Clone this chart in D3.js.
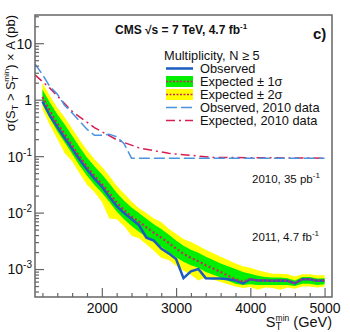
<!DOCTYPE html>
<html>
<head>
<meta charset="utf-8">
<title>CMS ST limit, N >= 5</title>
<script src="https://cdnjs.cloudflare.com/ajax/libs/d3/7.8.5/d3.min.js"></script>
<style>
  body { margin: 0; background: #fff; }
  svg { font-family: 'Liberation Sans', Arial, Helvetica, sans-serif; }
</style>
</head>
<body>
<svg id="svg" width="350" height="332"></svg>
<script>

// 2011 limits, one point per 100 GeV of ST min
const stMin = [1200, 1300, 1400, 1500, 1600, 1700, 1800, 1900, 2000, 2100,
  2200, 2300, 2400, 2500, 2600, 2700, 2800, 2900, 3000, 3100,
  3200, 3300, 3400, 3500, 3600, 3700, 3800, 3900, 4000, 4100,
  4200, 4300, 4400, 4500, 4600, 4700, 4800, 4900, 5000];
const observed = [0.93, 0.52, 0.33, 0.21, 0.135, 0.087, 0.058, 0.040, 0.029, 0.019,
  0.013, 0.0098, 0.0077, 0.0060, 0.0036, 0.0032, 0.0023, 0.0019, 0.0015, 0.00069,
  0.00091, 0.0010, 0.00069, 0.00068, 0.00068, 0.00066, 0.00063, 0.00056, 0.00066, 0.00063,
  0.00063, 0.00062, 0.00063, 0.00062, 0.00056, 0.00066, 0.00066, 0.00062, 0.00063];
const expected = [1.12, 0.63, 0.38, 0.245, 0.155, 0.098, 0.065, 0.045, 0.032, 0.0224,
  0.0151, 0.011, 0.0085, 0.0069, 0.0055, 0.0044, 0.0036, 0.0029, 0.0023, 0.00186,
  0.00158, 0.00138, 0.00117, 0.00102, 0.00089, 0.00076, 0.00066, 0.00060, 0.00066, 0.00063,
  0.00063, 0.00062, 0.00063, 0.00062, 0.00056, 0.00066, 0.00066, 0.00062, 0.00063];
const exp1Up = [1.51, 0.89, 0.55, 0.363, 0.229, 0.145, 0.095, 0.066, 0.048, 0.033,
  0.0224, 0.0162, 0.0123, 0.0098, 0.0078, 0.0062, 0.0051, 0.0041, 0.0032, 0.0026,
  0.0022, 0.00195, 0.00166, 0.00145, 0.00126, 0.00112, 0.0010, 0.00089, 0.00083, 0.00076,
  0.00072, 0.00071, 0.00071, 0.00069, 0.00063, 0.00072, 0.00072, 0.00068, 0.00069];
const exp1Dn = [0.85, 0.47, 0.275, 0.174, 0.110, 0.068, 0.045, 0.031, 0.0224, 0.0155,
  0.0105, 0.0076, 0.0058, 0.0046, 0.0037, 0.0030, 0.0025, 0.0020, 0.00162, 0.00135,
  0.00117, 0.00105, 0.00089, 0.00079, 0.00071, 0.00062, 0.00055, 0.00052, 0.00054, 0.00052,
  0.00052, 0.00052, 0.00052, 0.00052, 0.00050, 0.00055, 0.00055, 0.00052, 0.00054];
const exp2Up = [2.0, 1.17, 0.72, 0.49, 0.309, 0.195, 0.129, 0.089, 0.065, 0.045,
  0.030, 0.0219, 0.0158, 0.0120, 0.0098, 0.0079, 0.0068, 0.0052, 0.0042, 0.0034,
  0.0030, 0.0026, 0.0022, 0.0019, 0.00166, 0.00145, 0.00126, 0.00112, 0.00105, 0.00095,
  0.00089, 0.00083, 0.00083, 0.00081, 0.00074, 0.00081, 0.00081, 0.00078, 0.00078];
const exp2Dn = [0.68, 0.355, 0.204, 0.112, 0.081, 0.050, 0.031, 0.023, 0.0155, 0.0079,
  0.0076, 0.0058, 0.0039, 0.0035, 0.00275, 0.0021, 0.00158, 0.00145, 0.00115, 0.00093,
  0.00079, 0.00063, 0.00071, 0.00065, 0.00059, 0.00054, 0.00049, 0.00046, 0.00048, 0.00043,
  0.00047, 0.00046, 0.00043, 0.00047, 0.00045, 0.00049, 0.00049, 0.00047, 0.00049];

// 2010 results (35 pb-1)
const st2010Obs = [1100, 1200, 1300, 1400, 1500, 1600, 1700, 1800, 1900, 2000,
  2100, 2200, 2300, 2400, 5000];
const obs2010 = [4.3, 2.8, 1.7, 1.26, 0.79, 0.58, 0.42, 0.30, 0.234, 0.234,
  0.245, 0.22, 0.166, 0.092, 0.092];
const st2010Exp = [1100, 1300, 1600, 1900, 2200, 2500, 2900, 3500, 5000];
const exp2010 = [2.75, 1.6, 0.62, 0.32, 0.195, 0.14, 0.112, 0.095, 0.092];

const xTicks = [2000, 3000, 4000, 5000];
const yTicks = [1e-3, 1e-2, 1e-1, 1, 10];
const yTickLabels = [['10', '-3'], ['10', '-2'], ['10', '-1'], ['1', ''], ['10', '']];

const padL = 35, padR = 332, padT = 15, padB = 297;
const svg = d3.select('#svg');

const x = d3.scaleLinear().domain([1100, 5100]).range([padL, padR]);
const y = d3.scaleLog().domain([3.2e-4, 31.6]).range([padB, padT]);

svg.append('defs').append('clipPath').attr('id', 'frame')
  .append('rect').attr('x', padL).attr('y', padT)
  .attr('width', padR - padL).attr('height', padB - padT);

const plot = svg.append('g').attr('clip-path', 'url(#frame)');

const band = (lo, hi) => d3.area()
  .x((d, i) => x(stMin[i]))
  .y0((d, i) => y(lo[i]))
  .y1((d, i) => y(hi[i]));

plot.append('path').datum(stMin).attr('d', band(exp2Dn, exp2Up)).attr('fill', '#ffff00');
plot.append('path').datum(stMin).attr('d', band(exp1Dn, exp1Up)).attr('fill', '#00ee00');

const line = (xs) => d3.line().x((d, i) => x(xs[i])).y(d => y(d));

plot.append('path').datum(exp2010).attr('d', line(st2010Exp))
  .attr('fill', 'none').attr('stroke', '#d81e50').attr('stroke-width', 1.5)
  .attr('stroke-dasharray', '9,4,2,4');
plot.append('path').datum(obs2010).attr('d', line(st2010Obs))
  .attr('fill', 'none').attr('stroke', '#4a94e0').attr('stroke-width', 1.5)
  .attr('stroke-dasharray', '11,4');

plot.append('path').datum(observed).attr('d', line(stMin))
  .attr('fill', 'none').attr('stroke', '#1a5cbf').attr('stroke-width', 2.5);
plot.append('path').datum(expected).attr('d', line(stMin))
  .attr('fill', 'none').attr('stroke', '#cc2a5c').attr('stroke-width', 2.2)
  .attr('stroke-dasharray', '2,2.4');

// frame
svg.append('rect').attr('x', padL).attr('y', padT)
  .attr('width', padR - padL).attr('height', padB - padT)
  .attr('fill', 'none').attr('stroke', '#666').attr('stroke-width', 1.5);

// y axis, ticks pointing into the frame
const yMinor = [];
for (let e = -4; e <= 1; e++) {
  for (let k = 2; k <= 9; k++) {
    const v = k * Math.pow(10, e);
    if (v > 3.2e-4 && v < 31.6) yMinor.push(v);
  }
}
svg.append('g').attr('transform', `translate(${padL},0)`)
  .call(d3.axisLeft(y).tickValues(yMinor).tickSizeInner(-4).tickSizeOuter(0).tickFormat(''));
const yAxis = svg.append('g').attr('transform', `translate(${padL},0)`)
  .call(d3.axisLeft(y).tickValues(yTicks).tickSizeInner(-9).tickSizeOuter(0).tickPadding(3));

yAxis.selectAll('.tick text').each(function (d, i) {
  const t = d3.select(this).text(null).attr('font-size', 14).attr('dy', '0.35em');
  const lab = yTickLabels[i];
  t.append('tspan').text(lab[0]);
  if (lab[1]) t.append('tspan').attr('dy', -6).attr('font-size', 10).text(lab[1]);
});

// x axis
const xMinor = d3.range(1200, 5001, 200).filter(v => xTicks.indexOf(v) < 0);
svg.append('g').attr('transform', `translate(0,${padB})`)
  .call(d3.axisBottom(x).tickValues(xMinor).tickSizeInner(-4).tickSizeOuter(0).tickFormat(''));
const xAxis = svg.append('g').attr('transform', `translate(0,${padB})`)
  .call(d3.axisBottom(x).tickValues(xTicks).tickSizeInner(-9).tickSizeOuter(0).tickPadding(6)
    .tickFormat(d3.format('d')));
xAxis.selectAll('.tick text').attr('font-size', 14);

svg.selectAll('.domain').remove();
svg.selectAll('.tick line').attr('stroke', '#666').attr('stroke-width', 1.2);
svg.selectAll('.tick text').attr('fill', '#111').attr('font-family', null);

// axis titles
const yTitle = svg.append('text')
  .attr('transform', `translate(15,${padT}) rotate(-90)`)
  .attr('text-anchor', 'end').attr('font-size', 13).attr('fill', '#111');
yTitle.append('tspan').text('σ(S');
yTitle.append('tspan').attr('dy', 3).attr('font-size', 9).text('T');
yTitle.append('tspan').attr('dy', -3).text(' > S');
yTitle.append('tspan').attr('dy', 3).attr('font-size', 9).text('T');
yTitle.append('tspan').attr('dx', -6).attr('dy', -9).attr('font-size', 8).text('min');
yTitle.append('tspan').attr('dy', 6).text(') × A (pb)');

const xTitle = svg.append('text').attr('x', padR).attr('y', 327)
  .attr('text-anchor', 'end').attr('font-size', 14.5).attr('fill', '#111');
xTitle.append('tspan').text('S');
xTitle.append('tspan').attr('dy', 3).attr('font-size', 10).text('T');
xTitle.append('tspan').attr('dx', -6).attr('dy', -9).attr('font-size', 8.5).text('min');
xTitle.append('tspan').attr('dy', 6).text(' (GeV)');

// header texts
const title = svg.append('text').attr('x', 115).attr('y', 34)
  .attr('font-size', 12).attr('font-weight', 'bold').attr('fill', '#111');
title.append('tspan').text('CMS √s = 7 TeV, 4.7 fb');
title.append('tspan').attr('dy', -5).attr('font-size', 8).text('-1');

svg.append('text').attr('x', 313).attr('y', 39).attr('font-size', 15)
  .attr('font-weight', 'bold').attr('fill', '#111').text('c)');

const lumi = (txt, unit, yy) => {
  const t = svg.append('text').attr('x', 252).attr('y', yy).attr('font-size', 11.5).attr('fill', '#111');
  t.append('tspan').text(txt + ' ' + unit);
  t.append('tspan').attr('dy', -5).attr('font-size', 8).text('-1');
};
lumi('2010, 35', 'pb', 183);
lumi('2011, 4.7', 'fb', 241);

// legend
const lg = svg.append('g');
lg.append('text').attr('x', 164).attr('y', 59.5).attr('font-size', 12.8).attr('fill', '#111')
  .text('Multiplicity, N ≥ 5');
const rows = ['Observed', 'Expected ± 1σ', 'Expected ± 2σ', 'Observed, 2010 data', 'Expected, 2010 data'];
const rowY = i => 68.5 + i * 13;
rows.forEach((r, i) => {
  lg.append('text').attr('x', 200).attr('y', rowY(i) + 4.5).attr('font-size', 12.8)
    .attr('fill', '#111').text(r);
});
lg.append('line').attr('x1', 166).attr('x2', 193).attr('y1', rowY(0)).attr('y2', rowY(0))
  .attr('stroke', '#1a5cbf').attr('stroke-width', 2.5);
[['#00ee00', 1], ['#ffff00', 2]].forEach(([c, i]) => {
  lg.append('rect').attr('x', 166).attr('y', rowY(i) - 5.5).attr('width', 27).attr('height', 11).attr('fill', c);
  lg.append('line').attr('x1', 166).attr('x2', 193).attr('y1', rowY(i)).attr('y2', rowY(i))
    .attr('stroke', '#cc2a5c').attr('stroke-width', 1.5).attr('stroke-dasharray', '2,1.5');
});
lg.append('line').attr('x1', 166).attr('x2', 193).attr('y1', rowY(3)).attr('y2', rowY(3))
  .attr('stroke', '#4a94e0').attr('stroke-width', 1.5).attr('stroke-dasharray', '11,4');
lg.append('line').attr('x1', 166).attr('x2', 193).attr('y1', rowY(4)).attr('y2', rowY(4))
  .attr('stroke', '#d81e50').attr('stroke-width', 1.5).attr('stroke-dasharray', '9,4,2,4');

</script>
</body>
</html>
